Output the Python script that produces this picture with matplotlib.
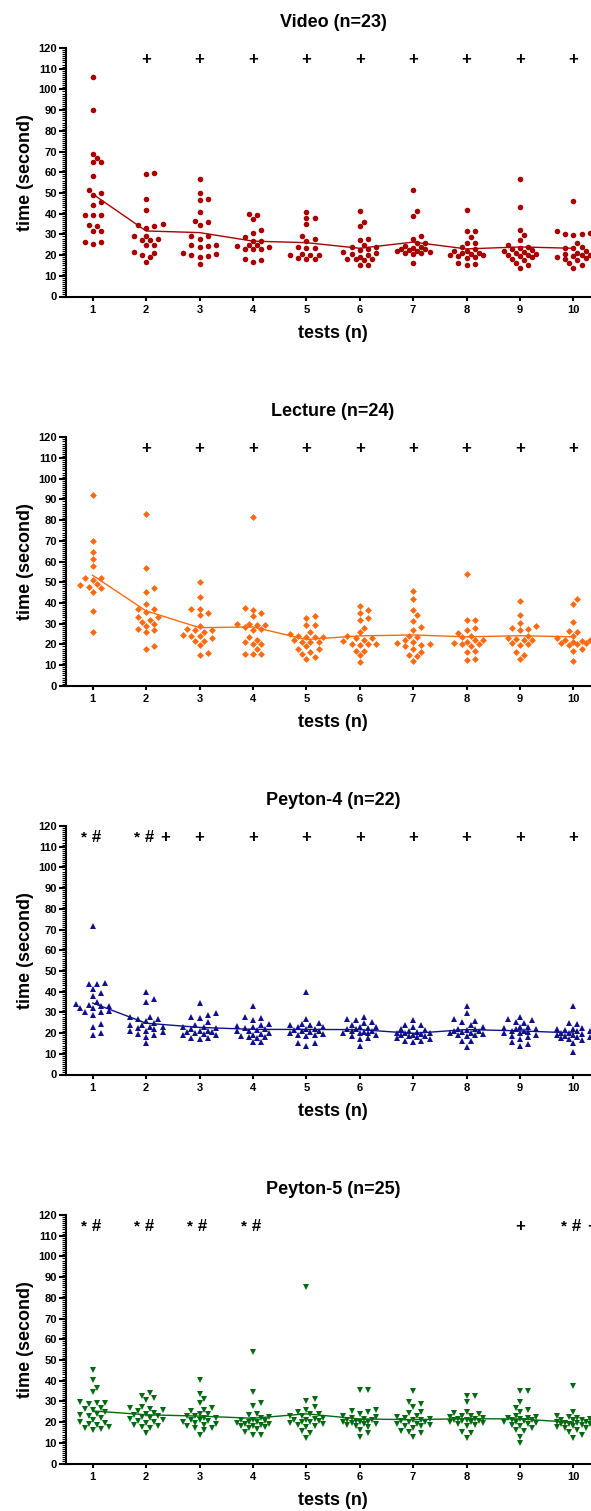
#!/usr/bin/env python3
"""Learning curves of the four teaching groups: time per test, swarm + mean line."""

import numpy as np
import matplotlib
matplotlib.use('Agg')
import matplotlib.pyplot as plt

plt.rcParams.update({
    'font.family': ['Liberation Sans', 'DejaVu Sans'],
    'font.weight': 'bold',
    'axes.linewidth': 1.5,
})

# ── data (seconds per test, tests 1..10) ──
tests = list(range(1, 11))

video = [
    [106, 90, 69, 67, 65, 65, 58, 51.5, 50, 49, 45.5, 44, 39.5, 39.5, 39.5, 34.5, 34, 31.5, 31.5, 26.5, 26.5, 25.5],
    [59.5, 59, 47, 42, 35, 34.5, 34, 33, 29, 29, 28, 27.5, 27.5, 25, 25, 21.5, 21, 20, 19, 16.5],
    [56.5, 50, 47, 46.5, 41, 36.5, 36, 34.5, 29, 29, 28, 25, 25, 24.5, 24, 21, 20.5, 20, 19.5, 19, 15.5],
    [40, 39.5, 37.5, 32, 30.5, 28.5, 27, 27, 25, 25, 24.5, 24, 23, 23, 23, 18, 17.5, 16.5],
    [41, 38, 38, 35, 29, 28, 27, 24, 23.5, 23.5, 20.5, 20, 20, 20, 18.5, 18, 18],
    [41.5, 36, 34, 28, 27.5, 25, 24, 24, 23, 22.5, 21.5, 21, 20.5, 20, 19, 18, 18, 18, 17.5, 15, 15],
    [51.5, 41.5, 39, 29, 28, 26, 26, 24.5, 24, 23.5, 23, 23, 22.5, 22, 22, 21.5, 21, 21, 20.5, 16],
    [42, 31.5, 31.5, 28.5, 26, 26, 24, 23, 22, 22, 21, 21, 20.5, 20, 20, 19.5, 19, 18.5, 16, 15.5, 15],
    [56.5, 43, 32, 29.5, 27.5, 25, 24, 23.5, 23, 22.5, 22, 21.5, 21, 20.5, 20, 20, 19.5, 19, 18, 17.5, 16, 15, 14],
    [46, 31.5, 30.5, 30, 30, 29.5, 26, 24, 23.5, 23.5, 22, 21, 20.5, 20, 20, 19.5, 19, 18.5, 18, 17.5, 16, 15, 14],
]

lecture = [
    [92, 70, 64.5, 61, 58, 52, 52, 51, 49, 48.5, 47.5, 47, 45.5, 36, 26],
    [83, 57, 47, 45.5, 39.5, 37, 37, 35.5, 33, 33, 32, 31, 30, 29, 27.5, 27, 26, 19, 18],
    [50, 43, 37, 37, 35, 34, 29, 27.5, 27, 26, 27, 24.5, 24, 24, 23, 21.5, 21.5, 19.5, 15, 16],
    [81.5, 37.5, 36.5, 35, 33.5, 30, 29.5, 29.5, 30, 28.5, 27, 27.5, 23.5, 22, 21, 20, 20, 18, 15.5, 15.5, 15.5],
    [33.5, 32.5, 29.5, 29.5, 26, 25, 23.5, 23.5, 23.5, 21, 21, 21, 18, 19, 18, 15.5, 16.5, 13, 14, 24, 22],
    [38.5, 36.5, 35, 32.5, 32, 28, 26, 24, 23, 23, 22, 21.5, 20, 20, 20, 19.5, 17, 17, 15, 11.5],
    [46, 42, 36.5, 34, 31.5, 28.5, 27, 24, 23.5, 22, 21, 20.5, 20, 19.5, 19, 18, 16.5, 15, 14.5, 12],
    [54, 32, 32, 28, 27, 25.5, 24, 23.5, 22, 22, 21, 20.5, 20, 20, 19, 17, 16.5, 13, 12.5],
    [41, 34, 30.5, 29, 28, 27.5, 27, 24, 23, 22.5, 22, 22, 20.5, 20, 19.5, 16.5, 15, 13],
    [42, 39.5, 31, 26.5, 26, 24, 23, 22, 22, 21.5, 21, 20.5, 20.5, 20, 19.5, 18, 17, 12],
]

peyton4 = [
    [71.5, 44, 43.5, 43.5, 41.5, 39.5, 38, 35, 34, 33.5, 33, 33, 32, 32, 30.5, 30, 30, 28.5, 24.5, 23, 20, 19],
    [40, 36.5, 35, 28, 28, 27, 27, 26, 25, 24, 24, 23, 23, 22.5, 22, 21, 21, 20.5, 19.5, 19, 18, 15],
    [34.5, 29.5, 28.5, 28, 27.5, 25.5, 24, 23, 23, 22.5, 22, 21, 21, 20.5, 20.5, 20, 19.5, 19, 19, 17.5, 17.5, 17],
    [33, 28, 27.5, 26.5, 24.5, 24, 23.5, 23, 22.5, 22, 21.5, 21, 21, 20, 19.5, 19, 18.5, 18, 18, 17.5, 15.5, 15.5],
    [40, 27, 25, 24.5, 24, 24, 23, 23, 22, 22, 21.5, 21, 21, 20.5, 20, 19.5, 19, 19, 18.5, 15, 15, 14],
    [28, 27, 26.5, 25.5, 25, 24, 23, 23, 22.5, 22, 22, 21, 21, 20.5, 20, 20, 19, 18.5, 17.5, 17, 14, 20],
    [26.5, 24, 24, 23, 22, 21.5, 21, 20.5, 20, 20, 20, 19.5, 19, 19, 18.5, 18.5, 18, 17.5, 17, 16, 16, 15.5],
    [33, 29.5, 27, 26, 25.5, 24, 23, 22, 22, 21.5, 21, 21, 20.5, 20, 20, 19.5, 19, 19, 18.5, 16, 16, 13.5],
    [28, 27, 26.5, 25.5, 25, 23, 23, 22.5, 22, 22, 21, 21, 20.5, 20, 20, 19, 18.5, 18, 17, 15.5, 14.5, 14],
    [33, 25, 24.5, 22.5, 22, 22, 21.5, 21, 21, 20, 20, 19.5, 19, 19, 18.5, 18, 18, 17.5, 17, 16.5, 15, 11],
]

peyton5 = [
    [45, 40.5, 36.5, 34.5, 29.5, 29, 29, 28.5, 27, 26.5, 26, 25, 24, 23.5, 23, 22, 21, 20, 19.5, 19, 18.5, 17.5, 17, 16.5, 16],
    [34, 32.5, 31.5, 30.5, 27.5, 27, 26.5, 26, 25.5, 24.5, 24, 23.5, 23, 22.5, 22, 21.5, 21, 20.5, 20, 19.5, 18.5, 18, 17.5, 17, 14.5],
    [40.5, 33.5, 31, 29, 27, 26, 25.5, 24, 24, 23, 23, 22, 22, 21, 21, 20.5, 20, 19.5, 19, 18.5, 18, 17, 17, 16, 14],
    [54, 34.5, 29, 28, 24, 23.5, 22.5, 22, 21, 21, 20.5, 20, 20, 19.5, 19, 19, 18.5, 18, 18, 17.5, 17, 16.5, 15, 14, 14],
    [85, 31, 30, 27.5, 26, 25, 24, 24, 23, 23, 22, 21.5, 21, 21, 20.5, 20, 20, 19.5, 19, 18.5, 18, 17.5, 15.5, 14.5, 12.5],
    [35.5, 35.5, 26, 25.5, 25, 24, 23, 22.5, 22, 21.5, 21, 21, 20.5, 20, 20, 19.5, 19, 19, 18.5, 18, 17.5, 16, 14.5, 13, 20],
    [35, 29.5, 28.5, 27.5, 25, 24.5, 23, 22.5, 22, 21.5, 21, 20.5, 20, 20, 19, 19, 18.5, 18, 18, 17, 15.5, 15, 14.5, 13, 21],
    [32.5, 32.5, 29.5, 25, 24.5, 24, 23, 23, 22.5, 22, 21.5, 21.5, 21, 20.5, 20.5, 20, 20, 19.5, 19, 18.5, 18, 15, 14.5, 12.5, 21],
    [35, 35, 29.5, 27, 26, 25, 23, 22.5, 22, 22, 21.5, 21, 21, 20.5, 20, 20, 19.5, 19, 18.5, 18, 17, 16, 15.5, 13, 10],
    [37.5, 25, 23, 22.5, 22, 21.5, 21, 21, 21, 20, 20, 19.5, 19.5, 19, 19, 18.5, 18, 17.5, 17, 17, 16, 15, 14, 12.5, 19],
]

# significance marks above each test
marks_video = ['', '+', '+', '+', '+', '+', '+', '+', '+', '+']
marks_lecture = ['', '+', '+', '+', '+', '+', '+', '+', '+', '+']
marks_peyton4 = ['*#', '*#+', '+', '+', '+', '+', '+', '+', '+', '+']
marks_peyton5 = ['*#', '*#', '*#', '*#', '', '', '', '', '+', '*#+']

panels = [
    ('Video (n=23)', video, marks_video, '#A80000', 'o', 4.0),
    ('Lecture (n=24)', lecture, marks_lecture, '#FF6A10', 'D', 3.5),
    ('Peyton-4 (n=22)', peyton4, marks_peyton4, '#10108C', '^', 4.4),
    ('Peyton-5 (n=25)', peyton5, marks_peyton5, '#006A10', 'v', 4.4),
]

W, H = 591, 1511
fig = plt.figure(figsize=(W / 100, H / 100), dpi=100)

ax_left = 66
ax_w = 534          # x from 0.5 to 10.5
ax_h = 248.5
tops = [48, 437.3, 826, 1215]

sx = ax_w / 10.0    # px per test
sy = ax_h / 120.0   # px per second


def swarm(vals, d=5.6, h=4.1, kmax=4):
    """Beeswarm offsets (test units): slots of h px, at most kmax slots each side."""
    vals = np.asarray(vals, float)
    offs = np.zeros(len(vals))
    placed = []
    slots = [0.0]
    for k in range(1, kmax + 1):
        slots += [k * h, -k * h]
    for n, i in enumerate(np.argsort(vals)):
        y = vals[i] * sy
        best, best_gap = None, -1.0
        for c in slots:
            gap = min([np.hypot(c - px, y - py) for px, py in placed] or [99.0])
            if gap >= d:
                best = c
                break
            if gap > best_gap:
                best, best_gap = c, gap
        offs[i] = best / sx
        placed.append((best, y))
    return offs


for (title, data, marks, color, marker, ms), top in zip(panels, tops):
    ax = fig.add_axes([ax_left / W, 1 - (top + ax_h) / H, ax_w / W, ax_h / H])

    means = [np.mean(v) for v in data]
    ax.plot(tests, means, '-', color=color, linewidth=1.0, zorder=2)

    for t, v in zip(tests, data):
        xs = t + swarm(v)
        ax.plot(xs, v, linestyle='none', marker=marker, markersize=ms,
                color=color, markeredgewidth=0, zorder=3, clip_on=False)

    # significance symbols
    for t, m in zip(tests, marks):
        if not m:
            continue
        if '*' in m:
            ax.text(t - 0.17, 114.5, '*', ha='center', va='center',
                    fontsize=11, fontweight='bold', clip_on=False)
            ax.text(t + 0.06, 114.5, '#', ha='center', va='center',
                    fontsize=12, fontweight='bold', clip_on=False)
        if '+' in m:
            xp = t + 0.35 if '#' in m else t
            ax.text(xp, 114.5, '+', ha='center', va='center',
                    fontsize=12, fontweight='bold', clip_on=False)

    ax.set_xlim(0.5, 10.5)
    ax.set_ylim(0, 120)
    ax.set_xticks(tests)
    ax.set_yticks(range(0, 121, 10))
    ax.set_yticks(range(0, 121, 1), minor=True)
    ax.tick_params(axis='y', which='major', length=5, width=1.5, pad=1.5, labelsize=8)
    ax.tick_params(axis='y', which='minor', length=3, width=0.8)
    ax.tick_params(axis='x', which='major', length=3, width=1.5, pad=3, labelsize=8)
    for lab in ax.get_xticklabels() + ax.get_yticklabels():
        lab.set_fontweight('bold')

    ax.spines['top'].set_visible(False)
    ax.spines['right'].set_visible(False)

    ax.set_title(title, fontsize=13, fontweight='bold', pad=15)
    ax.set_xlabel('tests (n)', fontsize=13, fontweight='bold', labelpad=7)
    ax.set_ylabel('time (second)', fontsize=13, fontweight='bold', labelpad=3)

fig.savefig('out.png', dpi=100)
print('Wrote out.png')
